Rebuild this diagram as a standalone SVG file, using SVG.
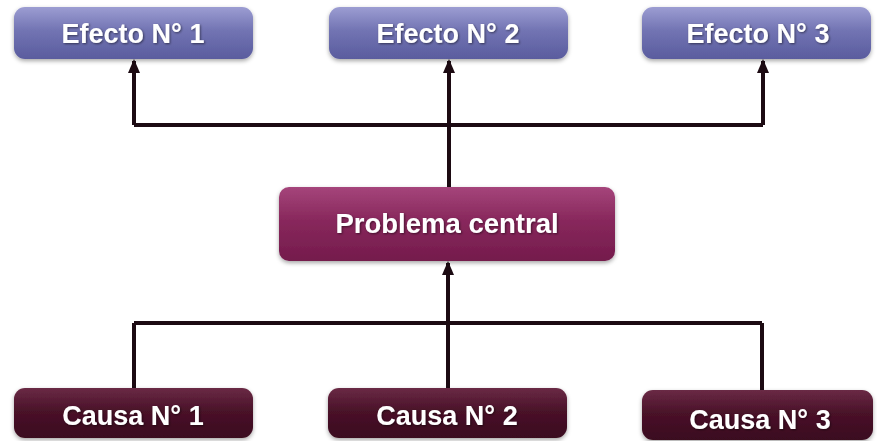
<svg xmlns="http://www.w3.org/2000/svg" width="877" height="441" viewBox="0 0 877 441">
<style>
.lbl{font-family:"Liberation Sans",Arial,sans-serif;font-weight:bold;font-size:27px;fill:#ffffff;text-anchor:middle}
.conn{stroke:#1c0a12;stroke-width:4;fill:none}
</style>
<defs>
<linearGradient id="gEf" x1="0" y1="0" x2="0" y2="1">
<stop offset="0" stop-color="#9c9dd2"/>
<stop offset="0.45" stop-color="#7274b3"/>
<stop offset="1" stop-color="#5a5c9e"/>
</linearGradient>
<linearGradient id="gPr" x1="0" y1="0" x2="0" y2="1">
<stop offset="0" stop-color="#a5457b"/>
<stop offset="0.45" stop-color="#88285c"/>
<stop offset="1" stop-color="#741b4c"/>
</linearGradient>
<linearGradient id="gCa" x1="0" y1="0" x2="0" y2="1">
<stop offset="0" stop-color="#6a2a45"/>
<stop offset="0.45" stop-color="#4a1229"/>
<stop offset="1" stop-color="#3a0b1f"/>
</linearGradient>
<filter id="sh" x="-10%" y="-20%" width="120%" height="150%">
<feDropShadow dx="0" dy="2" stdDeviation="2" flood-color="#000" flood-opacity="0.35"/>
</filter>
<filter id="tsh" x="-10%" y="-20%" width="120%" height="150%">
<feDropShadow dx="1" dy="1" stdDeviation="0.8" flood-color="#000" flood-opacity="0.5"/>
</filter>
<marker id="arr" markerUnits="userSpaceOnUse" markerWidth="14" markerHeight="12" refX="12" refY="6" orient="auto" viewBox="0 0 14 12">
<path d="M0,0 L14,6 L0,12 Z" fill="#1c0a12"/>
</marker>
</defs>
<g id="connectors">
<path class="conn" d="M134,125 H763"/>
<path class="conn" d="M134,125 V61" marker-end="url(#arr)"/>
<path class="conn" d="M449,187 V61" marker-end="url(#arr)"/>
<path class="conn" d="M763,125 V61" marker-end="url(#arr)"/>
<path class="conn" d="M134,323 H762"/>
<path class="conn" d="M134,323 V388"/>
<path class="conn" d="M762,323 V390"/>
<path class="conn" d="M448,388 V263" marker-end="url(#arr)"/>
</g>
<g id="efecto1">
<rect x="14" y="7" width="239" height="52" rx="11" fill="url(#gEf)" filter="url(#sh)"/>
<text class="lbl" x="133" y="43" filter="url(#tsh)">Efecto N° 1</text>
</g>
<g id="efecto2">
<rect x="329" y="7" width="239" height="52" rx="11" fill="url(#gEf)" filter="url(#sh)"/>
<text class="lbl" x="448" y="43" filter="url(#tsh)">Efecto N° 2</text>
</g>
<g id="efecto3">
<rect x="642" y="7" width="229" height="52" rx="11" fill="url(#gEf)" filter="url(#sh)"/>
<text class="lbl" x="758" y="43" filter="url(#tsh)">Efecto N° 3</text>
</g>
<g id="problema">
<rect x="279" y="187" width="336" height="74" rx="10" fill="url(#gPr)" filter="url(#sh)"/>
<text class="lbl" x="447" y="233" style="font-size:27.5px" filter="url(#tsh)">Problema central</text>
</g>
<g id="causa1">
<rect x="14" y="388" width="239" height="50" rx="11" fill="url(#gCa)" filter="url(#sh)"/>
<text class="lbl" x="133" y="425" filter="url(#tsh)">Causa N° 1</text>
</g>
<g id="causa2">
<rect x="328" y="388" width="239" height="50" rx="11" fill="url(#gCa)" filter="url(#sh)"/>
<text class="lbl" x="447" y="425" filter="url(#tsh)">Causa N° 2</text>
</g>
<g id="causa3">
<rect x="642" y="390" width="231" height="50" rx="11" fill="url(#gCa)" filter="url(#sh)"/>
<text class="lbl" x="760" y="429" filter="url(#tsh)">Causa N° 3</text>
</g>
</svg>
